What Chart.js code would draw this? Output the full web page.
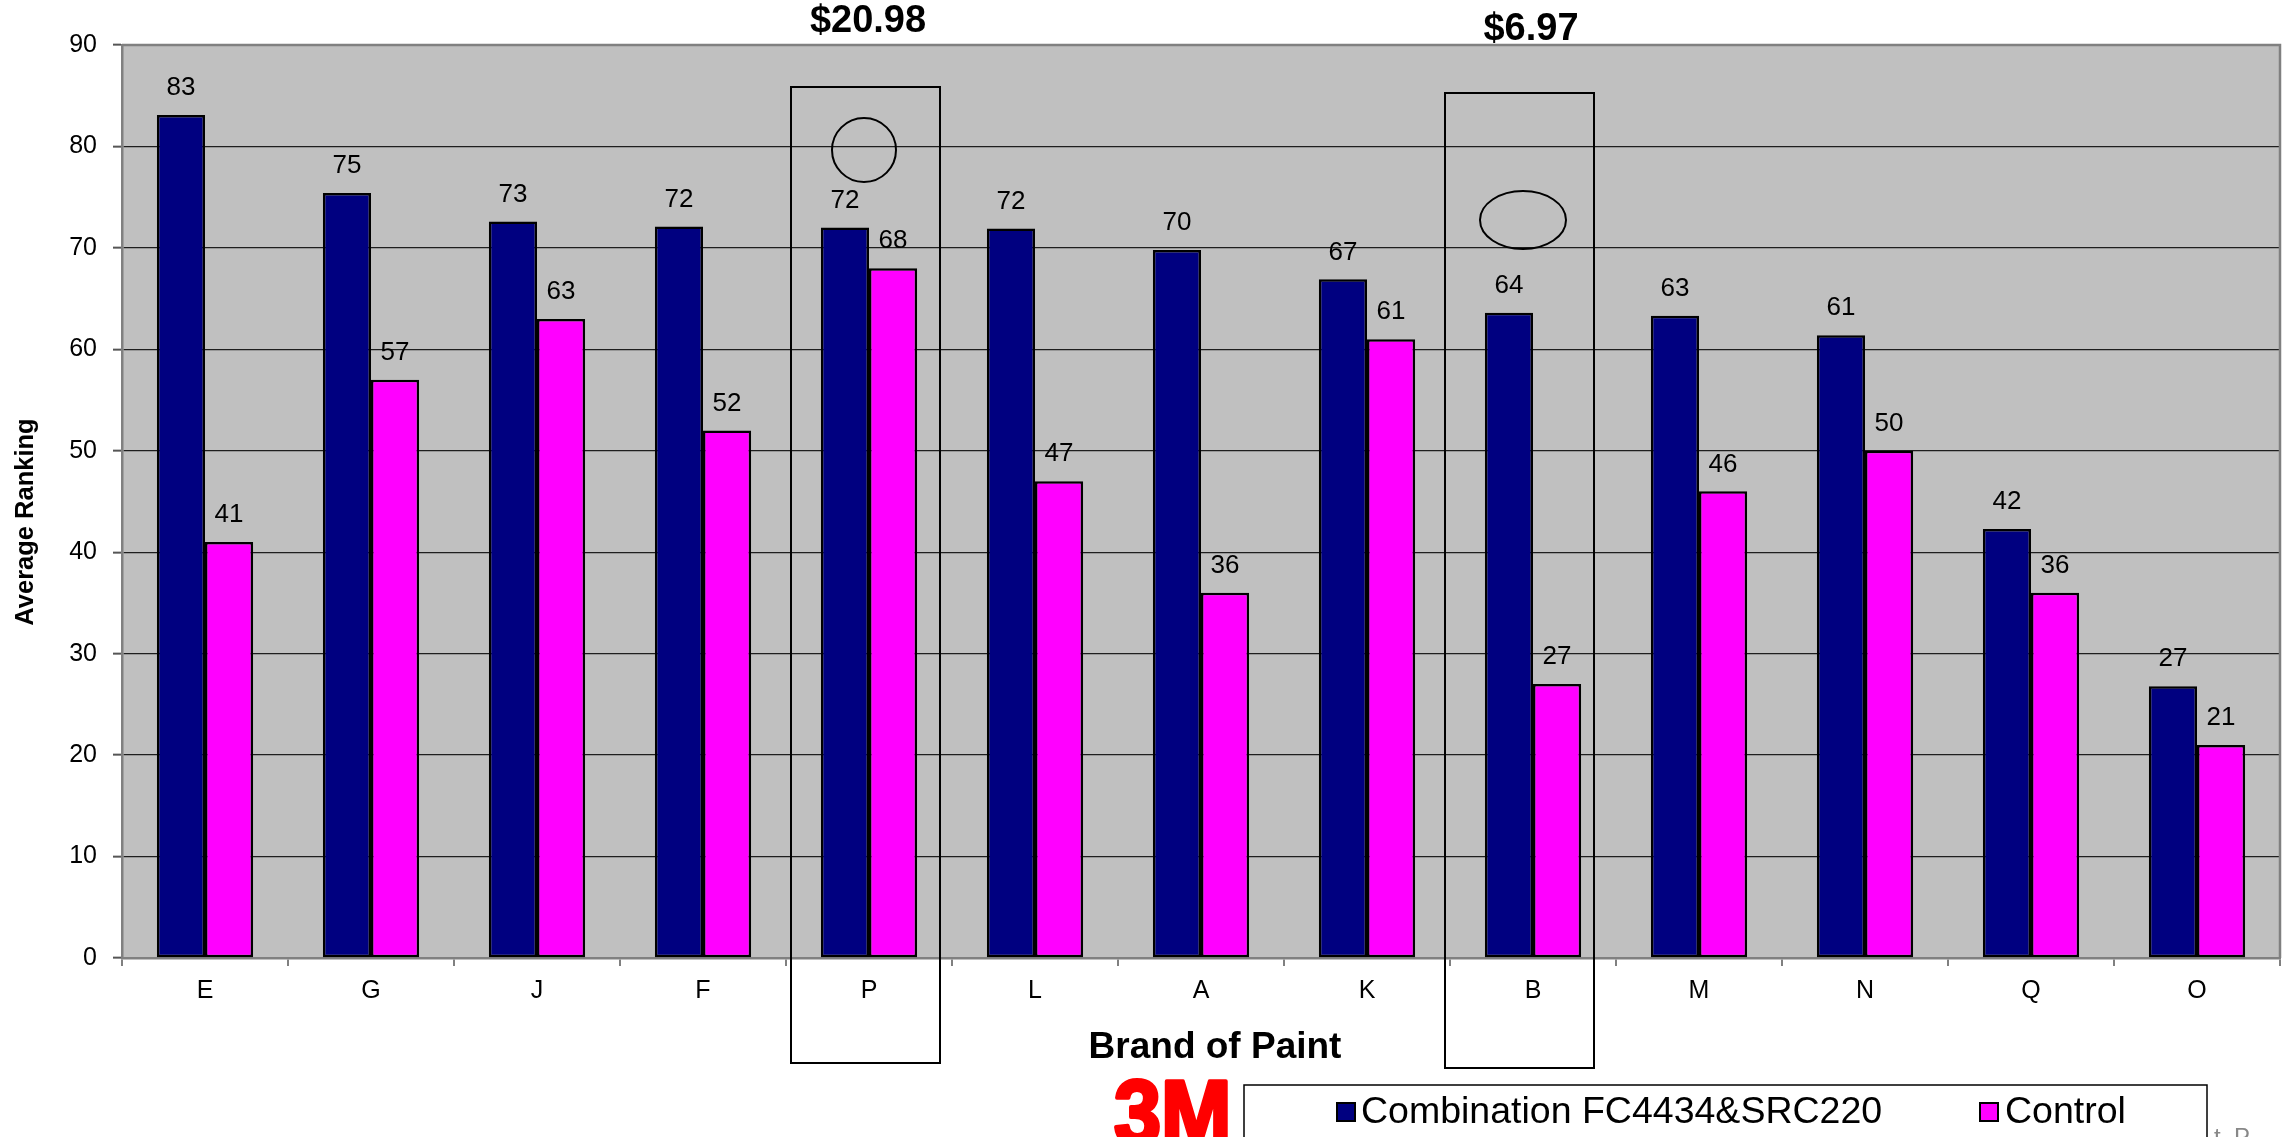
<!DOCTYPE html>
<html>
<head>
<meta charset="utf-8">
<script src="https://cdn.jsdelivr.net/npm/chart.js@4/dist/chart.umd.min.js"></script>
<style>
    html, body { margin: 0; padding: 0; background: #fff; }
    #wrap { position: relative; width: 2295px; height: 1137px; }
</style>
</head>
<body>
<div id="wrap"><canvas id="chart"></canvas></div>
<script>
const brands = ['E', 'G', 'J', 'F', 'P', 'L', 'A', 'K', 'B', 'M', 'N', 'Q', 'O'];
const combination = [83.1, 75.4, 72.6, 72.1, 72.0, 71.9, 69.8, 66.9, 63.6, 63.3, 61.4, 42.3, 26.8];
const control = [41, 57, 63, 52, 68, 47, 36, 61, 27, 46, 50, 36, 21];
const yTicks = [0, 10, 20, 30, 40, 50, 60, 70, 80, 90];

const seriesNames = ['Combination FC4434&SRC220', 'Control'];
const seriesColors = ['#000080', '#ff00ff'];

// price call-outs for two of the brands
const callouts = [
    { brand: 'P', price: '$20.98', box: [-78, 71, 87, 1063], ring: [-5, 150, 32, 32], priceAt: [-1, 22] },
    { brand: 'B', price: '$6.97', box: [-88, 61, 93, 1068], ring: [-10, 220, 43, 29], priceAt: [-2, 30] },
];

const FONT = "'Liberation Sans', Arial, sans-serif";

const extras = {
    id: 'extras',
    beforeDraw(chart) {
        const { ctx, chartArea: a } = chart;
        ctx.save();
        ctx.fillStyle = '#c0c0c0';
        ctx.fillRect(a.left, a.top, a.right - a.left, a.bottom - a.top);
        ctx.restore();
    },
    afterDatasetsDraw(chart) {
        const { ctx } = chart;
        ctx.save();
        ctx.font = `26px ${FONT}`;
        ctx.fillStyle = '#000';
        ctx.textAlign = 'center';
        ctx.textBaseline = 'middle';
        chart.data.datasets.forEach((ds, di) => {
            chart.getDatasetMeta(di).data.forEach((bar, i) => {
                ctx.fillText(String(Math.round(ds.data[i])), bar.x, bar.y - 27);
            });
        });
        ctx.restore();
    },
    afterDraw(chart) {
        const { ctx, chartArea: a, scales } = chart;
        ctx.save();

        // plot frame, top and right
        ctx.strokeStyle = '#808080';
        ctx.lineWidth = 2.5;
        ctx.beginPath();
        ctx.moveTo(a.left, a.top);
        ctx.lineTo(a.right, a.top);
        ctx.lineTo(a.right, a.bottom);
        ctx.stroke();

        // call-out boxes, rings and prices
        callouts.forEach((c) => {
            const cx = scales.x.getPixelForValue(brands.indexOf(c.brand));
            ctx.strokeStyle = '#000';
            ctx.lineWidth = 2;
            ctx.strokeRect(cx + c.box[0], c.box[2], c.box[1] - c.box[0], c.box[3] - c.box[2]);
            ctx.beginPath();
            ctx.ellipse(cx + c.ring[0], c.ring[1], c.ring[2], c.ring[3], 0, 0, Math.PI * 2);
            ctx.stroke();
            ctx.fillStyle = '#000';
            ctx.font = `bold 38px ${FONT}`;
            ctx.textAlign = 'center';
            ctx.textBaseline = 'middle';
            ctx.fillText(c.price, cx + c.priceAt[0], c.priceAt[1]);
        });

        // axis titles
        ctx.fillStyle = '#000';
        ctx.font = `bold 37px ${FONT}`;
        ctx.textAlign = 'center';
        ctx.textBaseline = 'middle';
        ctx.fillText('Brand of Paint', 1215, 1048);

        ctx.save();
        ctx.translate(26, 522);
        ctx.rotate(-Math.PI / 2);
        ctx.font = `bold 25.5px ${FONT}`;
        ctx.fillText('Average Ranking', 0, 0);
        ctx.restore();

        // 3M mark
        ctx.save();
        ctx.translate(1112, 1080);
        ctx.scale(0.94, 1);
        ctx.font = `bold 90px ${FONT}`;
        ctx.textAlign = 'left';
        ctx.textBaseline = 'top';
        ctx.fillStyle = '#ff0000';
        ctx.strokeStyle = '#ff0000';
        ctx.lineWidth = 4;
        ctx.lineJoin = 'round';
        ctx.fillText('3M', 2, -6);
        ctx.strokeText('3M', 2, -6);
        ctx.restore();

        // legend
        ctx.strokeStyle = '#000';
        ctx.lineWidth = 1.5;
        ctx.strokeRect(1244, 1085, 963, 80);
        const items = [[1337, 1361], [1980, 2005]];
        ctx.font = `37.5px ${FONT}`;
        ctx.textAlign = 'left';
        ctx.textBaseline = 'middle';
        items.forEach(([sx, tx], i) => {
            ctx.fillStyle = seriesColors[i];
            ctx.fillRect(sx, 1103, 18, 18);
            ctx.lineWidth = 2;
            ctx.strokeRect(sx, 1103, 18, 18);
            ctx.fillStyle = '#000';
            ctx.fillText(seriesNames[i], tx, 1113);
        });

        ctx.fillStyle = '#888';
        ctx.font = `24px ${FONT}`;
        ctx.textBaseline = 'top';
        ctx.fillText('t. P', 2214, 1126);

        ctx.restore();
    },
};

new Chart(document.getElementById('chart'), {
    type: 'bar',
    data: {
        labels: brands,
        datasets: [combination, control].map((values, i) => ({
            label: seriesNames[i],
            data: values,
            backgroundColor: seriesColors[i],
            borderColor: '#000',
            borderWidth: 2.5,
            borderSkipped: false,
            categoryPercentage: 0.58,
            barPercentage: 1,
        })),
    },
    options: {
        responsive: true,
        maintainAspectRatio: false,
        animation: false,
        devicePixelRatio: 1,
        layout: { padding: { top: 45, right: 15, bottom: 119, left: 0 } },
        plugins: {
            legend: { display: false },
            tooltip: { enabled: false },
        },
        scales: {
            x: {
                afterFit: (scale) => { scale.height = 60; },
                grid: { drawOnChartArea: false, offset: true, tickLength: 8, color: '#808080', lineWidth: 2 },
                border: { color: '#808080', width: 2.5 },
                ticks: { color: '#000', font: { family: FONT, size: 25 }, padding: 10 },
            },
            y: {
                min: 0,
                max: 90,
                afterFit: (scale) => { scale.width = 122; },
                afterBuildTicks: (scale) => { scale.ticks = yTicks.map((v) => ({ value: v })); },
                grid: { color: '#1e1e1e', lineWidth: 1.3, tickLength: 9, tickColor: '#555', tickWidth: 2 },
                border: { color: '#808080', width: 2.5 },
                ticks: { color: '#000', font: { family: FONT, size: 25 }, padding: 16 },
            },
        },
    },
    plugins: [extras],
});
</script>
</body>
</html>
